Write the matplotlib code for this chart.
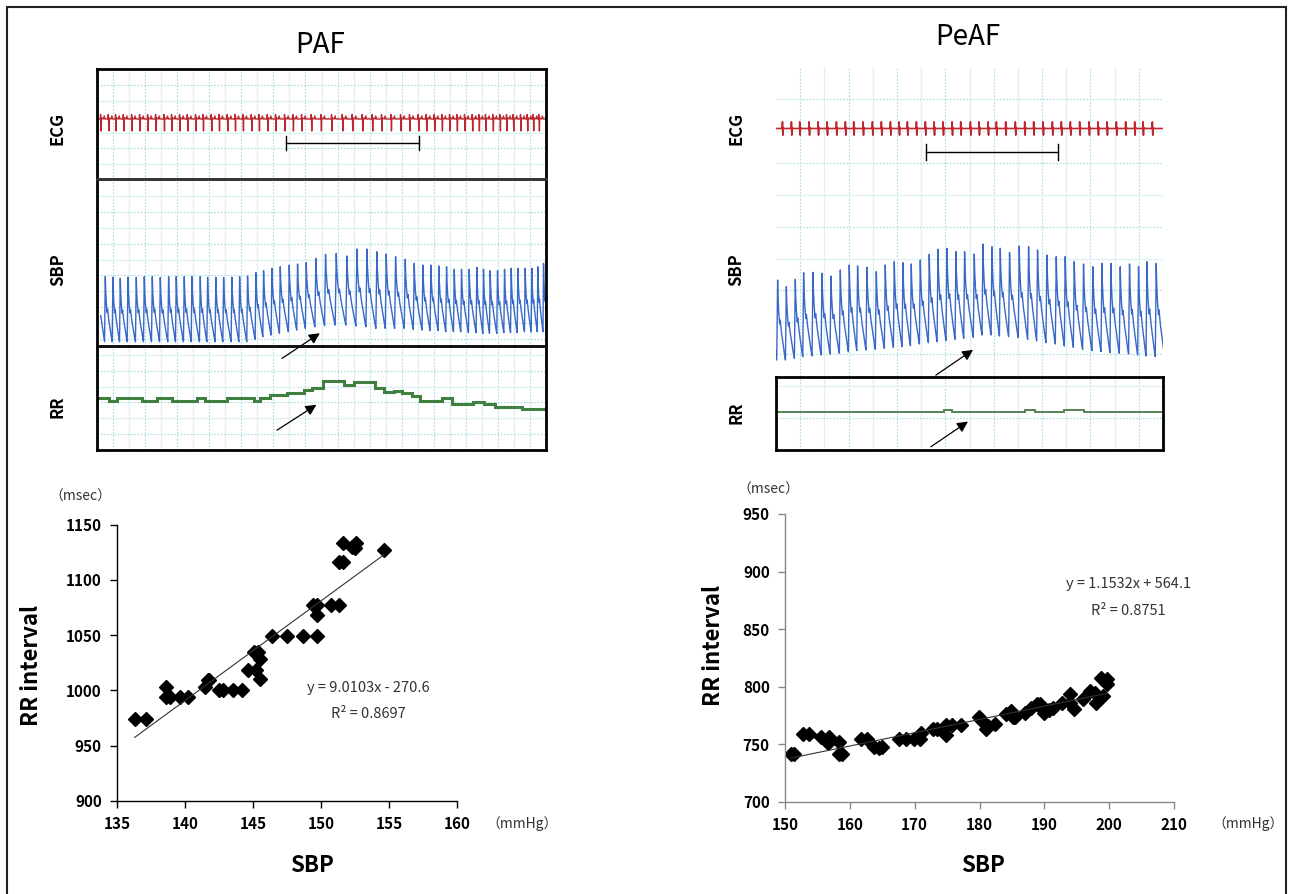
import numpy as np
import matplotlib
matplotlib.use("Agg")
import matplotlib.pyplot as plt
from matplotlib.patches import Rectangle

plt.rcParams['font.family'] = ['Noto Sans CJK JP', 'DejaVu Sans']

W, H = 1293, 894

# ---------------- scatter data ----------------
paf_sbp = [136.3, 137.1, 138.6, 138.6, 138.9, 139.6, 140.2, 141.5, 141.7, 141.8,
           142.5, 142.8, 143.5, 144.2, 144.6, 145.2, 145.5, 145.1, 145.4, 145.5,
           146.4, 147.5, 148.7, 149.7, 149.4, 149.7, 149.7, 150.7, 151.3, 151.3,
           151.6, 151.6, 152.3, 152.6, 152.5, 154.6]
paf_rr = [974, 974, 1003, 994, 994, 994, 994, 1003, 1009, 1009,
          1000, 1000, 1000, 1000, 1018, 1018, 1010, 1035, 1035, 1028,
          1049, 1049, 1049, 1049, 1077, 1077, 1068, 1077, 1077, 1116,
          1116, 1133, 1130, 1133, 1129, 1127]
paf_fit = (9.0103, -270.6)
paf_eq = ["y = 9.0103x - 270.6", "R² = 0.8697"]

peaf_sbp = [150.9, 151.4, 152.7, 153.7, 155.6, 156.8, 156.7, 158.3, 158.3, 158.8,
            161.7, 162.7, 163.8, 164.5, 165.0, 167.6, 168.6, 169.9, 170.8, 170.9,
            172.8, 173.5, 174.9, 174.9, 175.7, 177.1, 179.9, 180.3, 181.0, 181.3,
            182.4, 184.1, 184.8, 185.2, 185.5, 187.0, 187.9, 188.8, 189.4, 189.7,
            189.9, 190.7, 191.3, 192.8, 193.9, 193.9, 194.5, 195.9, 197.0, 197.8,
            197.9, 198.7, 199.0, 199.7, 199.7]
peaf_rr = [742, 742, 759, 759, 756, 756, 751, 752, 742, 742,
           755, 755, 748, 747, 748, 755, 755, 755, 755, 760,
           763, 763, 758, 767, 767, 767, 774, 771, 763, 766,
           768, 776, 779, 774, 774, 777, 782, 785, 785, 782,
           777, 780, 782, 786, 794, 786, 781, 789, 796, 795,
           786, 808, 792, 807, 802]
peaf_fit = (1.1532, 564.1)
peaf_eq = ["y = 1.1532x + 564.1", "R² = 0.8751"]

# ---------------- trace data (time in s) ----------------
paf_beat_t = [1.11, 2.13, 3.11, 4.14, 5.25, 6.32, 7.39, 8.46, 9.57, 10.59,
              11.66, 12.69, 13.80, 14.78, 15.89, 16.92, 18.03, 19.06, 20.12, 21.24,
              22.26, 23.38, 24.49, 25.69, 26.80, 27.96, 29.25, 30.54, 31.97, 33.40,
              34.73, 36.07, 37.40, 38.65, 39.90, 41.19, 42.39, 43.55, 44.62, 45.69,
              46.71, 47.74, 48.71, 49.74, 50.76, 51.65, 52.54, 53.52, 54.46, 55.35,
              56.24, 57.22, 58.11, 58.91, 59.67]
paf_sys = [135.7, 135.2, 134.6, 135.2, 135.2, 135.7, 135.7, 135.2, 135.7, 135.7,
           135.7, 135.7, 135.7, 135.2, 135.2, 135.2, 135.2, 135.7, 136.1, 138.3,
           139.6, 141.2, 142.2, 143.3, 144.0, 144.9, 147.7, 150.4, 151.0, 149.3,
           153.9, 153.9, 152.1, 150.6, 148.8, 147.1, 144.4, 143.3, 143.3, 142.7,
           142.2, 140.5, 140.5, 140.5, 141.8, 140.5, 139.6, 139.6, 140.5, 141.2,
           141.2, 141.2, 141.2, 142.2, 144.4]
paf_dia = [92.8, 92.8, 92.8, 92.8, 92.8, 92.8, 92.8, 92.8, 92.8, 92.8,
           92.8, 92.8, 92.8, 92.8, 92.8, 92.8, 92.8, 92.8, 92.8, 94.4,
           96.1, 97.2, 98.3, 99.4, 100.5, 101.6, 102.7, 103.4, 103.8, 103.8,
           103.2, 102.7, 101.6, 101.6, 101.6, 101.6, 101.0, 100.5, 100.1, 100.1,
           99.4, 99.4, 99.4, 98.8, 98.8, 98.3, 98.3, 98.3, 98.8, 98.8,
           98.8, 99.4, 99.4, 99.4, 99.4]
paf_rr_edges = [0, 1.55, 2.67, 6.01, 8.01, 10.02, 13.36, 14.47, 17.37, 20.93,
                21.82, 23.15, 25.38, 27.6, 28.72, 30.14, 32.95, 34.28, 37.18, 38.38,
                39.63, 40.75, 42.08, 43.2, 46.09, 47.43, 50.31, 51.65, 53.22, 56.78, 60]
paf_rr_level = [998, 979, 1002, 979, 1002, 979, 1002, 979, 1002, 979,
                1002, 1023, 1041, 1062, 1079, 1133, 1100, 1121, 1079, 1044,
                1054, 1036, 1015, 979, 998, 954, 972, 954, 933, 915]

peaf_beat_t = [0.25, 1.60, 2.99, 4.28, 5.73, 7.13, 8.52, 9.97, 11.36, 12.65,
               14.10, 15.55, 16.94, 18.34, 19.68, 20.97, 22.37, 23.76, 25.11, 26.50,
               27.90, 29.24, 30.74, 32.08, 33.48, 34.77, 36.21, 37.71, 39.16, 40.55,
               42.00, 43.45, 44.84, 46.24, 47.68, 49.13, 50.53, 51.92, 53.37, 54.81,
               56.21, 57.50, 58.95]
peaf_sys = [161.3, 154.0, 162.1, 169.3, 169.8, 168.7, 165.7, 172.3, 177.8, 176.7,
            175.2, 170.4, 177.8, 181.4, 180.3, 178.9, 183.3, 189.5, 195.0, 196.1,
            192.4, 192.4, 189.8, 200.8, 197.8, 196.1, 191.3, 198.6, 197.8, 194.2,
            188.7, 186.9, 186.9, 181.4, 178.9, 175.9, 179.6, 179.6, 175.9, 178.9,
            175.9, 181.4, 179.6]
peaf_dia = [73.6, 73.6, 75.5, 77.3, 78.0, 79.1, 80.2, 81.0, 82.8, 83.9,
            84.6, 85.3, 86.4, 87.5, 88.2, 89.3, 91.2, 92.6, 93.7, 94.8,
            96.3, 97.4, 98.5, 101.0, 101.0, 99.9, 99.2, 98.1, 96.3, 94.8,
            92.6, 91.2, 89.0, 87.5, 85.3, 83.9, 82.8, 81.7, 81.0, 80.2,
            79.1, 78.0, 77.3]
peaf_rr_edges = [0, 25.98, 27.28, 30.12, 38.64, 40.19, 44.58, 47.68, 60]
peaf_rr_level = [794, 807, 789, 794, 807, 794, 807, 794]

ecg_lag = 0.55          # R wave ahead of pressure peak (s)
paf_bar = (25.27, 43.0)
peaf_bar = (23.26, 43.66)


def px_box(x0, y0, x1, y1):
    return [x0 / W, 1 - y1 / H, (x1 - x0) / W, (y1 - y0) / H]


def pressure_trace(tp, sys, dia):
    f_shape = [0.0, 0.05, 0.14, 0.24, 0.30, 0.45, 0.65, 0.82, 0.90]
    r_shape = [0.0, 0.22, 0.42, 0.55, 0.50, 0.66, 0.82, 0.95, 1.0]
    dt0 = tp[1] - tp[0]
    xs = [tp[0] - dt0 * 0.6, tp[0] - 0.1 * dt0]
    ys = [dia[0] + 0.4 * (sys[0] - dia[0]), dia[0]]
    n = len(tp)
    for i in range(n):
        if i + 1 < n:
            dt, dn = tp[i + 1] - tp[i], dia[i + 1]
        else:
            dt, dn = tp[i] - tp[i - 1], dia[i]
        for f, r in zip(f_shape, r_shape):
            xs.append(tp[i] + f * dt)
            ys.append(sys[i] - r * (sys[i] - dn))
    return xs, ys


def ecg_trace(tr, offs, vals):
    xs, ys = [-1.0], [0.0]
    for t in tr:
        for o, v in zip(offs, vals):
            xs.append(t + o)
            ys.append(v)
    xs.append(61.0)
    ys.append(0.0)
    return xs, ys


def paper_grid(fig, box, nx, ny):
    g = fig.add_axes(box, zorder=0)
    g.set_xlim(0, 1)
    g.set_ylim(0, 1)
    for i, x in enumerate(np.linspace(0, 1, nx + 1)[1:-1]):
        if i % 2:
            g.axvline(x, color='#dff2f3', lw=1.0)
        else:
            g.axvline(x, color='#a9dcdf', lw=0.8, ls=(0, (1.5, 1.5)))
    for i, y in enumerate(np.linspace(0, 1, ny + 1)[1:-1]):
        if i % 2:
            g.axhline(y, color='#dff2f3', lw=1.0)
        else:
            g.axhline(y, color='#a9dcdf', lw=0.8, ls=(0, (1.5, 1.5)))
    g.axis('off')
    return g


def trace_axes(fig, box):
    ax = fig.add_axes(box, zorder=2)
    ax.set_facecolor('none')
    ax.set_xticks([])
    ax.set_yticks([])
    ax.set_xlim(0, 60)
    return ax


fig = plt.figure(figsize=(W / 100, H / 100), dpi=100)
fig.add_artist(Rectangle((7 / W, -0.01), (1286 - 7) / W, 1 - 7 / H + 0.01,
                         transform=fig.transFigure, fill=False, lw=1.5, color='#222'))

ecg_red = '#c0262d'
sbp_blue = '#3a68c8'
rr_green = '#3f7f3f'
arrow_kw = dict(arrowstyle='-|>', lw=0.9, color='k', mutation_scale=16)

# ================= PAF traces =================
paper_grid(fig, px_box(97, 69, 546, 450), 28, 24)
ecgL = trace_axes(fig, px_box(97, 69, 546, 179))
sbpL = trace_axes(fig, px_box(97, 179, 546, 346))
rrL = trace_axes(fig, px_box(97, 346, 546, 450))
ecgL.set_ylim(-1.2, 1.0)
sbpL.set_ylim(90, 200)
rrL.set_ylim(600, 1400)
for ax, c in [(ecgL, '#555'), (sbpL, '#333'), (rrL, '#111')]:
    for s in ax.spines.values():
        s.set_linewidth(2)
        s.set_color(c)
for s in ['top', 'left', 'right']:
    ecgL.spines[s].set_color('k')
for s in ['left', 'right']:
    sbpL.spines[s].set_color('k')
for s in ['bottom', 'left', 'right']:
    rrL.spines[s].set_color('k')

ex, ey = ecg_trace(np.array(paf_beat_t) - ecg_lag,
                   [-0.25, -0.12, -0.08, -0.04, 0.0, 0.04, 0.3, 0.4, 0.5],
                   [0, 0, 0.09, 0, -0.24, 0.02, 0, 0.06, 0])
ecgL.plot(ex, ey, color=ecg_red, lw=1.0)
ecgL.plot(paf_bar, [-0.48, -0.48], color='k', lw=1)
for t in paf_bar:
    ecgL.plot([t, t], [-0.62, -0.34], color='k', lw=1)

sx, sy = pressure_trace(paf_beat_t, paf_sys, paf_dia)
sbpL.plot(sx, sy, color=sbp_blue, lw=1.0)
rrL.stairs(paf_rr_level, paf_rr_edges, color=rr_green, lw=2.2, baseline=None)

sbpL.annotate('', xy=(30.08, 99.4), xytext=(24.41, 80.8), arrowprops=arrow_kw,
              annotation_clip=False)
rrL.annotate('', xy=(29.63, 959), xytext=(23.74, 741), arrowprops=arrow_kw,
             annotation_clip=False)

# ================= PeAF traces =================
paper_grid(fig, px_box(776, 67, 1163, 450), 16, 12)
ecgR = trace_axes(fig, px_box(776, 67, 1163, 190))
sbpR = trace_axes(fig, px_box(776, 190, 1163, 377))
rrR = trace_axes(fig, px_box(776, 377, 1163, 450))
ecgR.set_ylim(-1.2, 1.2)
sbpR.set_ylim(55, 260)
rrR.set_ylim(500, 1060)
for ax in (ecgR, sbpR):
    for s in ax.spines.values():
        s.set_visible(False)
for s in rrR.spines.values():
    s.set_linewidth(2)
    s.set_color('k')

ex, ey = ecg_trace(np.array(peaf_beat_t) - ecg_lag,
                   [-0.15, -0.08, -0.05, -0.02, 0.02, 0.05, 0.08, 0.15],
                   [0, 0.02, 0.13, -0.02, -0.13, 0, 0.02, 0])
ecgR.plot(ex, ey, color=ecg_red, lw=1.2)
ecgR.plot(peaf_bar, [-0.46, -0.46], color='k', lw=1)
for t in peaf_bar:
    ecgR.plot([t, t], [-0.62, -0.30], color='k', lw=1)

sx, sy = pressure_trace(peaf_beat_t, peaf_sys, peaf_dia)
sbpR.plot(sx, sy, color=sbp_blue, lw=1.0)
rrR.stairs(peaf_rr_level, peaf_rr_edges, color='#4a7a4a', lw=1.3, baseline=None)

sbpR.annotate('', xy=(30.9, 86.5), xytext=(24.43, 55.3), arrowprops=arrow_kw,
              annotation_clip=False)
rrR.annotate('', xy=(30.12, 730), xytext=(23.66, 513), arrowprops=arrow_kw,
             annotation_clip=False)

# labels around traces
fig.text(320 / W, 1 - 45 / H, 'PAF', ha='center', va='center', fontsize=20)
fig.text(968 / W, 1 - 37 / H, 'PeAF', ha='center', va='center', fontsize=20)
for x0 in (58, 736):
    fig.text(x0 / W, 1 - 128 / H, 'ECG', rotation=90, ha='center', va='center',
             fontsize=12, fontweight='bold')
    fig.text(x0 / W, 1 - 270 / H, 'SBP', rotation=90, ha='center', va='center',
             fontsize=12, fontweight='bold')
fig.text(58 / W, 1 - 407 / H, 'RR', rotation=90, ha='center', va='center',
         fontsize=12, fontweight='bold')
fig.text(736 / W, 1 - 413 / H, 'RR', rotation=90, ha='center', va='center',
         fontsize=12, fontweight='bold')


# ================= scatter plots =================
def scatter_panel(box, xs, ys, fit, eq, xlim, ylim, xstep, ystep, eq_xy, axis_color):
    ax = fig.add_axes(box)
    ax.plot(xs, ys, 'D', color='k', ms=7.5, mec='k')
    x_line = np.array([min(xs), max(xs)])
    ax.plot(x_line, fit[0] * x_line + fit[1], color='#333', lw=0.8)
    ax.set_xlim(*xlim)
    ax.set_ylim(*ylim)
    ax.set_xticks(np.arange(xlim[0], xlim[1] + 1, xstep))
    ax.set_yticks(np.arange(ylim[0], ylim[1] + 1, ystep))
    for s in ['top', 'right']:
        ax.spines[s].set_visible(False)
    for s in ['left', 'bottom']:
        ax.spines[s].set_color(axis_color)
        ax.spines[s].set_linewidth(1.0)
    ax.tick_params(direction='out', length=5, width=1, color=axis_color,
                   labelsize=11, pad=6)
    for lab in ax.get_xticklabels() + ax.get_yticklabels():
        lab.set_fontweight('bold')
    ax.text(eq_xy[0], eq_xy[1], eq[0], ha='center', va='center', fontsize=10.5, color='#333')
    ax.text(eq_xy[0], eq_xy[1] - 23.5, eq[1], ha='center', va='center',
            fontsize=10.5, color='#333')
    return ax


scatter_panel(px_box(117, 524.5, 457, 801), paf_sbp, paf_rr, paf_fit, paf_eq,
              (135, 160), (900, 1150), 5, 50, (153.5, 1002), 'k')
scatter_panel(px_box(785, 514, 1174, 802), peaf_sbp, peaf_rr, peaf_fit, peaf_eq,
              (150, 210), (700, 950), 10, 50, (203.0, 889.3), '#888')

fig.text(80 / W, 1 - 497 / H, '（msec）', ha='center', va='center', fontsize=10, color='#333')
fig.text(768 / W, 1 - 490 / H, '（msec）', ha='center', va='center', fontsize=10, color='#333')
fig.text(522 / W, 1 - 824 / H, '（mmHg）', ha='center', va='center', fontsize=10, color='#333')
fig.text(1248 / W, 1 - 824 / H, '（mmHg）', ha='center', va='center', fontsize=10, color='#333')
fig.text(32 / W, 1 - 665 / H, 'RR interval', rotation=90, ha='center', va='center',
         fontsize=16, fontweight='bold')
fig.text(713 / W, 1 - 645 / H, 'RR interval', rotation=90, ha='center', va='center',
         fontsize=16, fontweight='bold')
fig.text(312 / W, 1 - 866 / H, 'SBP', ha='center', va='center', fontsize=16, fontweight='bold')
fig.text(983 / W, 1 - 866 / H, 'SBP', ha='center', va='center', fontsize=16, fontweight='bold')

fig.savefig('out.png', dpi=100)
